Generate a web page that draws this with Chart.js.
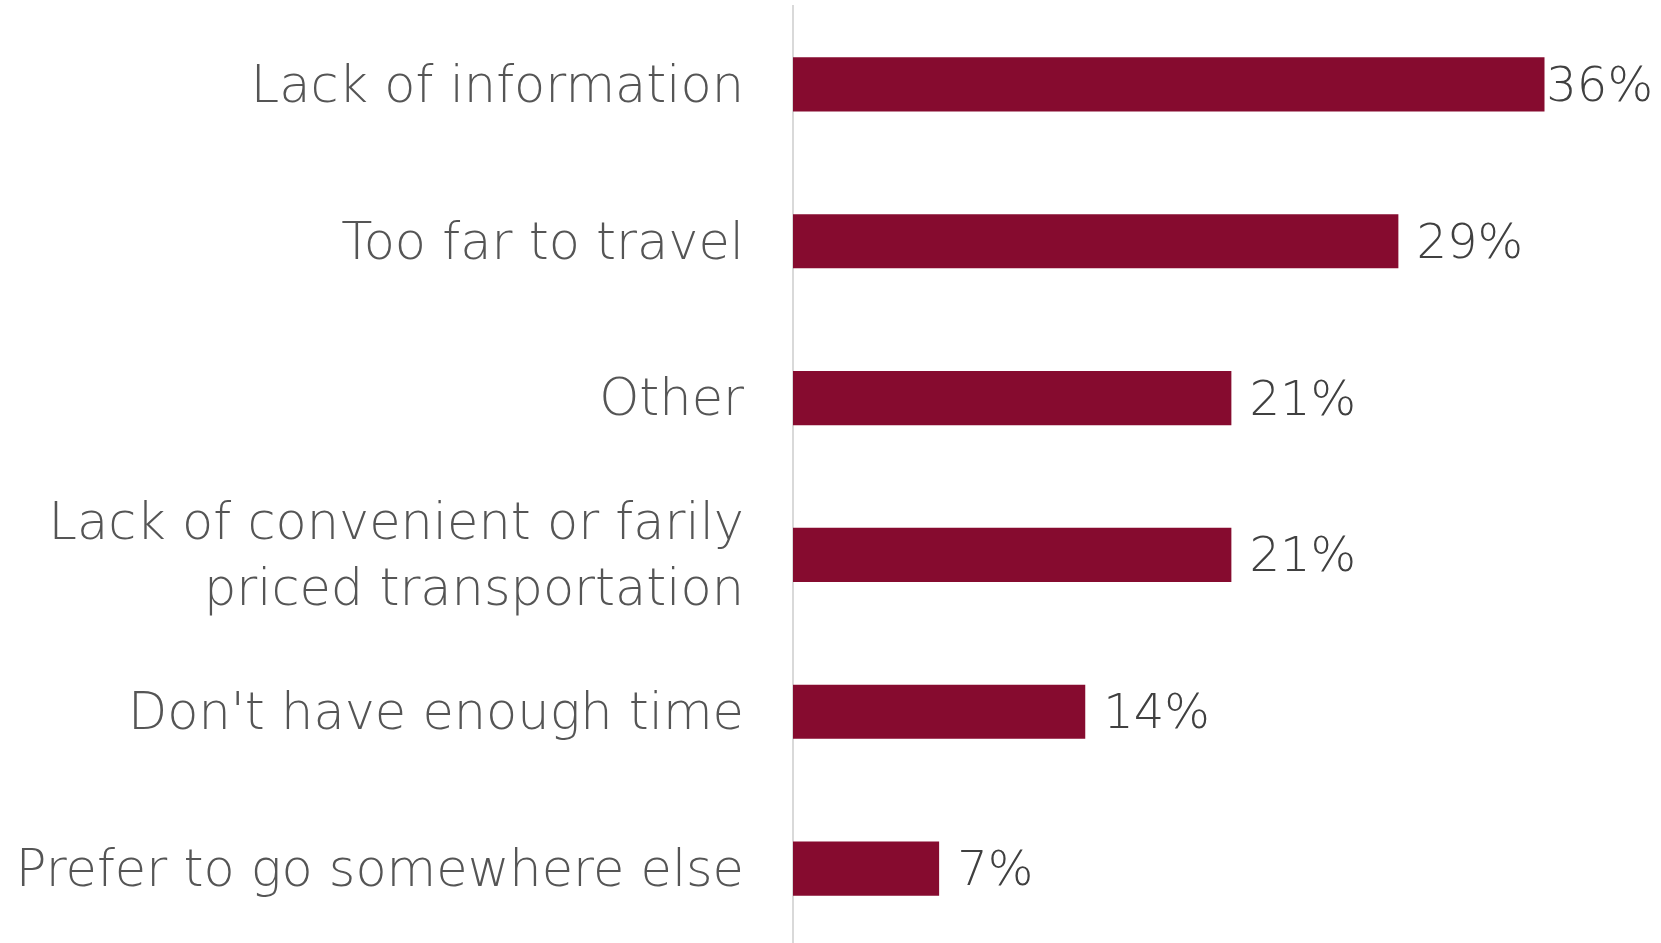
<!DOCTYPE html>
<html lang="en">
<head>
    <meta charset="UTF-8">
    <title>Reasons for not visiting</title>
    <script src="https://cdn.jsdelivr.net/npm/chart.js"></script>
    <style>
        html, body {
            margin: 0;
            padding: 0;
            background: #ffffff;
            overflow: hidden;
        }
        .chart-container {
            position: relative;
            width: 1661px;
            height: 947px;
        }
    </style>
</head>
<body>
    <div class="chart-container">
        <canvas id="reasonsChart"></canvas>
    </div>

    <script>
        // Survey answers, top to bottom
        const reasons = [
            'Lack of information',
            'Too far to travel',
            'Other',
            ['Lack of convenient or farily', 'priced transportation'],
            "Don't have enough time",
            'Prefer to go somewhere else'
        ];
        const shares = [36, 29, 21, 21, 14, 7]; // percent of respondents

        const fontFamily = '"DejaVu Sans", sans-serif';
        const labelFont = { family: fontFamily, size: 51, weight: 200, lineHeight: 1.29 };

        // Writes the percentage just past the end of each bar
        const valueLabels = {
            id: 'valueLabels',
            afterDatasetsDraw(chart) {
                const ctx = chart.ctx;
                const meta = chart.getDatasetMeta(0);
                ctx.save();
                ctx.font = '200 48px ' + fontFamily;
                ctx.fillStyle = '#404040';
                ctx.textAlign = 'left';
                ctx.textBaseline = 'middle';
                meta.data.forEach((bar, i) => {
                    const text = shares[i] + '%';
                    const w = ctx.measureText(text).width;
                    // keep the longest label inside the canvas
                    const x = Math.min(bar.x + 18, chart.width - w - 8);
                    ctx.fillText(text, x, bar.y + 4);
                });
                ctx.restore();
            }
        };

        const ctx = document.getElementById('reasonsChart').getContext('2d');
        new Chart(ctx, {
            type: 'bar',
            data: {
                labels: reasons,
                datasets: [{
                    data: shares,
                    backgroundColor: '#860B2F',
                    borderWidth: 0,
                    categoryPercentage: 1,
                    barPercentage: 0.345
                }]
            },
            options: {
                indexAxis: 'y',
                responsive: true,
                maintainAspectRatio: false,
                animation: false,
                layout: {
                    padding: { top: 6, right: 33, bottom: 0, left: 0 }
                },
                plugins: {
                    legend: { display: false },
                    tooltip: { enabled: false }
                },
                scales: {
                    x: {
                        display: false,
                        min: 0,
                        max: 40
                    },
                    y: {
                        afterFit(scale) {
                            scale.width = 793;
                            // no extra room above/below for the tall labels
                            scale.paddingTop = 0;
                            scale.paddingBottom = 0;
                        },
                        grid: { display: false, drawTicks: false },
                        border: { display: true, color: '#d9d9d9', width: 2 },
                        ticks: {
                            color: '#555555',
                            font: labelFont,
                            padding: 49,
                            labelOffset: 4
                        }
                    }
                }
            },
            plugins: [valueLabels]
        });
    </script>
</body>
</html>
